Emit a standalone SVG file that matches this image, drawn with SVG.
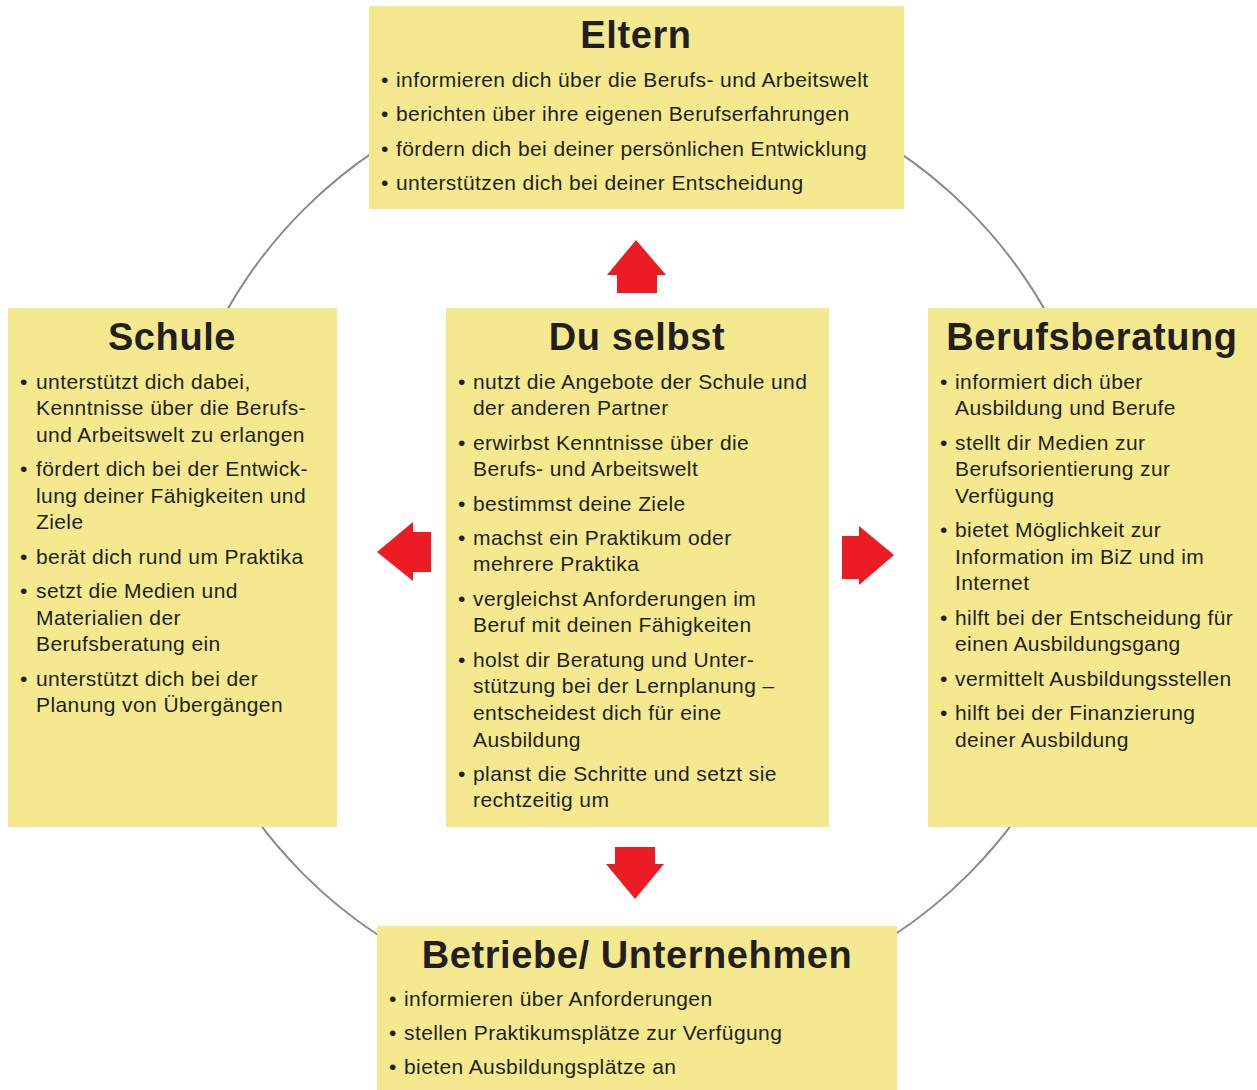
<svg xmlns="http://www.w3.org/2000/svg" width="1257" height="1090" viewBox="0 0 1257 1090">
<style>
.box{fill:#F5E98F}
.t{font-family:"Liberation Sans",Arial,sans-serif;font-weight:bold;font-size:38px;fill:#231F20;text-anchor:middle;letter-spacing:0.6px}
.b{font-family:"Liberation Sans",Arial,sans-serif;font-size:21px;fill:#231F20;letter-spacing:0.4px}
.ar{fill:#ED1C24}
</style>
<rect width="1257" height="1090" fill="#fff"/>
<g id="connectors">
<circle cx="636" cy="542" r="470" fill="none" stroke="#8A8A8A" stroke-width="2"/>
<polygon class="ar" points="636,240 666,275 657,275 657,293 617,293 617,275 607,275"/>
<polygon class="ar" points="377,552 413,522 413,532 431,532 431,572 413,572 413,581"/>
<polygon class="ar" points="894,555 859,526 859,536 842,536 842,579 859,579 859,585"/>
<polygon class="ar" points="635,899 664,864 655,864 655,847 615,847 615,864 606,864"/>
</g>
<g id="eltern">
<rect class="box" x="369" y="6" width="535" height="203"/>
<text class="t" x="636" y="48">Eltern</text>
<g class="b">
<text x="381" y="87">•</text><text x="396" y="87">informieren dich über die Berufs- und Arbeitswelt</text>
<text x="381" y="121">•</text><text x="396" y="121">berichten über ihre eigenen Berufserfahrungen</text>
<text x="381" y="156">•</text><text x="396" y="156">fördern dich bei deiner persönlichen Entwicklung</text>
<text x="381" y="190">•</text><text x="396" y="190">unterstützen dich bei deiner Entscheidung</text>
</g>
</g>
<g id="schule">
<rect class="box" x="8" y="308" width="329" height="519"/>
<text class="t" x="172" y="350">Schule</text>
<g class="b">
<text x="20" y="389">•</text><text x="36" y="389">unterstützt dich dabei,</text>
<text x="36" y="415">Kenntnisse über die Berufs-</text>
<text x="36" y="442">und Arbeitswelt zu erlangen</text>
<text x="20" y="476">•</text><text x="36" y="476">fördert dich bei der Entwick-</text>
<text x="36" y="503">lung deiner Fähigkeiten und</text>
<text x="36" y="529">Ziele</text>
<text x="20" y="564">•</text><text x="36" y="564">berät dich rund um Praktika</text>
<text x="20" y="598">•</text><text x="36" y="598">setzt die Medien und</text>
<text x="36" y="625">Materialien der</text>
<text x="36" y="651">Berufsberatung ein</text>
<text x="20" y="686">•</text><text x="36" y="686">unterstützt dich bei der</text>
<text x="36" y="712">Planung von Übergängen</text>
</g>
</g>
<g id="duselbst">
<rect class="box" x="446" y="308" width="383" height="519"/>
<text class="t" x="637" y="350">Du selbst</text>
<g class="b">
<text x="458" y="389">•</text><text x="473" y="389">nutzt die Angebote der Schule und</text>
<text x="473" y="415">der anderen Partner</text>
<text x="458" y="450">•</text><text x="473" y="450">erwirbst Kenntnisse über die</text>
<text x="473" y="476">Berufs- und Arbeitswelt</text>
<text x="458" y="511">•</text><text x="473" y="511">bestimmst deine Ziele</text>
<text x="458" y="545">•</text><text x="473" y="545">machst ein Praktikum oder</text>
<text x="473" y="571">mehrere Praktika</text>
<text x="458" y="606">•</text><text x="473" y="606">vergleichst Anforderungen im</text>
<text x="473" y="632">Beruf mit deinen Fähigkeiten</text>
<text x="458" y="667">•</text><text x="473" y="667">holst dir Beratung und Unter-</text>
<text x="473" y="693">stützung bei der Lernplanung –</text>
<text x="473" y="720">entscheidest dich für eine</text>
<text x="473" y="747">Ausbildung</text>
<text x="458" y="781">•</text><text x="473" y="781">planst die Schritte und setzt sie</text>
<text x="473" y="807">rechtzeitig um</text>
</g>
</g>
<g id="berufsberatung">
<rect class="box" x="928" y="308" width="329" height="519"/>
<text class="t" x="1092" y="350">Berufsberatung</text>
<g class="b">
<text x="940" y="389">•</text><text x="955" y="389">informiert dich über</text>
<text x="955" y="415">Ausbildung und Berufe</text>
<text x="940" y="450">•</text><text x="955" y="450">stellt dir Medien zur</text>
<text x="955" y="476">Berufsorientierung zur</text>
<text x="955" y="503">Verfügung</text>
<text x="940" y="537">•</text><text x="955" y="537">bietet Möglichkeit zur</text>
<text x="955" y="564">Information im BiZ und im</text>
<text x="955" y="590">Internet</text>
<text x="940" y="625">•</text><text x="955" y="625">hilft bei der Entscheidung für</text>
<text x="955" y="651">einen Ausbildungsgang</text>
<text x="940" y="686">•</text><text x="955" y="686">vermittelt Ausbildungsstellen</text>
<text x="940" y="720">•</text><text x="955" y="720">hilft bei der Finanzierung</text>
<text x="955" y="747">deiner Ausbildung</text>
</g>
</g>
<g id="betriebe">
<rect class="box" x="377" y="926" width="520" height="164"/>
<text class="t" x="637" y="968">Betriebe/ Unternehmen</text>
<g class="b">
<text x="389" y="1006">•</text><text x="404" y="1006">informieren über Anforderungen</text>
<text x="389" y="1040">•</text><text x="404" y="1040">stellen Praktikumsplätze zur Verfügung</text>
<text x="389" y="1074">•</text><text x="404" y="1074">bieten Ausbildungsplätze an</text>
</g>
</g>
</svg>
